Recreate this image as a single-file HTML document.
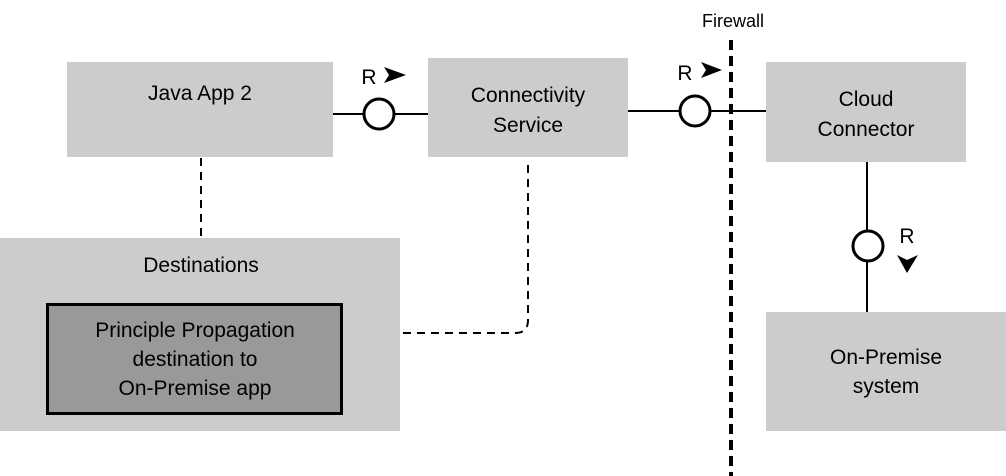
<!DOCTYPE html>
<html><head><style>
body{margin:0;background:#fff;}
svg{display:block;font-family:"Liberation Sans",Arial,sans-serif;}
</style></head><body>
<svg width="1006" height="476" viewBox="0 0 1006 476">
<rect x="67" y="62" width="266" height="95" fill="#cccccc"/>
<rect x="428" y="58" width="200" height="99" fill="#cccccc"/>
<rect x="766" y="62" width="200" height="100" fill="#cccccc"/>
<rect x="0" y="238" width="400" height="193" fill="#cccccc"/>
<rect x="47.5" y="304.5" width="294" height="109" fill="#999999" stroke="#000" stroke-width="3"/>
<rect x="766" y="312" width="240" height="119" fill="#cccccc"/>

<g stroke="#000" stroke-width="2" fill="none">
<line x1="333" y1="114" x2="428" y2="114"/>
<line x1="628" y1="111" x2="766" y2="111"/>
<line x1="867" y1="162" x2="867" y2="312"/>
</g>
<g stroke="#000" stroke-width="2" fill="none" stroke-dasharray="8,6">
<line x1="201" y1="158" x2="201" y2="236"/>
<path d="M528 165 V320 Q528 333 515 333 H402"/>
</g>
<line x1="731" y1="40" x2="731" y2="476" stroke="#000" stroke-width="4" stroke-dasharray="10,6"/>

<g stroke="#000" stroke-width="3" fill="#fff">
<circle cx="379" cy="114" r="15"/>
<circle cx="695" cy="111" r="15"/>
<circle cx="868" cy="246" r="15"/>
</g>
<g fill="#000">
<polygon points="384,67 406,75 384,83 389,75"/>
<polygon points="701,62 722,70 701,78 706,70"/>
<polygon points="897,255 907,260 918,255 907,273"/>
</g>
<g font-size="21" fill="#000" text-anchor="middle">
<text x="369" y="84">R</text>
<text x="685" y="80">R</text>
<text x="907" y="243">R</text>
<text x="733" y="27" font-size="18">Firewall</text>
<text x="200" y="100">Java App 2</text>
<text x="528" y="102">Connectivity</text>
<text x="528" y="132">Service</text>
<text x="866" y="106">Cloud</text>
<text x="866" y="136">Connector</text>
<text x="201" y="272">Destinations</text>
<text x="195" y="337">Principle Propagation</text>
<text x="195" y="366">destination to</text>
<text x="195" y="395">On-Premise app</text>
<text x="886" y="364">On-Premise</text>
<text x="886" y="393">system</text>
</g>
</svg>
</body></html>
